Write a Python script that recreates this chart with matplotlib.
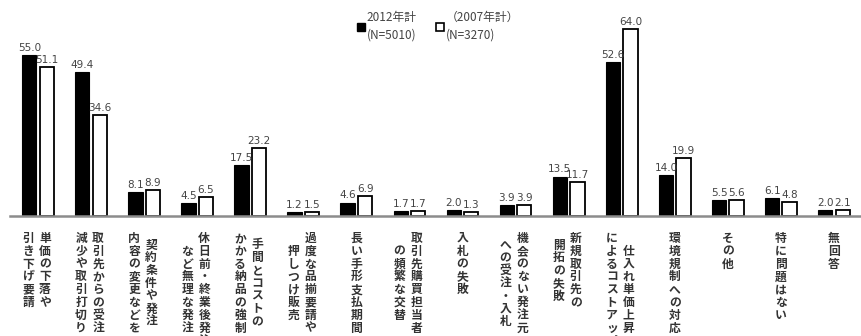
import numpy as np
import matplotlib
matplotlib.use('Agg')
import matplotlib.pyplot as plt
from matplotlib.patches import Patch

plt.rcParams['font.family'] = ['Noto Sans CJK JP', 'DejaVu Sans']

# --- data ---
labels = [
    ['単価の下落や', '引き下げ要請'],
    ['取引先からの受注', '減少や取引打切り'],
    ['契約条件や発注', '内容の変更などを'],
    ['休日前・終業後発注', 'など無理な発注'],
    ['手間とコストの', 'かかる納品の強制'],
    ['過度な品揃要請や', '押しつけ販売'],
    ['長い手形支払期間'],
    ['取引先購買担当者', 'の頻繁な交替'],
    ['入札の失敗'],
    ['機会のない発注元', 'への受注・入札'],
    ['新規取引先の', '開拓の失敗'],
    ['仕入れ単価上昇', 'によるコストアップ'],
    ['環境規制への対応'],
    ['その他'],
    ['特に問題はない'],
    ['無回答'],
]
vals_2012 = [55.0, 49.4, 8.1, 4.5, 17.5, 1.2, 4.6, 1.7, 2.0, 3.9, 13.5, 52.6, 14.0, 5.5, 6.1, 2.0]
vals_2007 = [51.1, 34.6, 8.9, 6.5, 23.2, 1.5, 6.9, 1.7, 1.3, 3.9, 11.7, 64.0, 19.9, 5.6, 4.8, 2.1]
legend_labels = ['2012年計\n(N=5010)', '（2007年計）\n(N=3270)']

W, H = 861, 336
fig = plt.figure(figsize=(W / 100, H / 100), dpi=100)
# axes: baseline at y=216px, groups at 38 + 53.07*i px
ax = fig.add_axes([10 / W, 120 / H, 851 / W, 204 / H])
ax.set_xlim(-0.528, 15.51)
ax.set_ylim(0, 204 / 2.92)

x = np.arange(len(vals_2012))
off, bw = 0.165, 0.27
ax.bar(x - off, vals_2012, bw, color='black', edgecolor='black', lw=0.8, zorder=2)
ax.bar(x + off, vals_2007, bw, color='white', edgecolor='black', lw=1.3, zorder=2)

for xi, v in zip(x, vals_2012):
    ax.annotate(f'{v:.1f}', (xi - off, v), xytext=(0, 1.5), textcoords='offset points',
                ha='center', va='bottom', fontsize=7.5, color='#444444', family='DejaVu Sans')
for xi, v in zip(x, vals_2007):
    ax.annotate(f'{v:.1f}', (xi + off, v), xytext=(0, 1.5), textcoords='offset points',
                ha='center', va='bottom', fontsize=7.5, color='#444444', family='DejaVu Sans')

# vertical (tategaki) category labels, first line on the right
px = 0.72  # points per pixel
pitch = 12.8
top = 16 + 6.5  # first char centre below baseline (px)
for xi, lines in zip(x, labels):
    if len(lines) == 1:
        cols = [0]
    else:
        cols = [7, -10]
    n = max(len(s) for s in lines)
    for dx, s in zip(cols, lines):
        shift = (n - len(s)) / 2 * pitch
        for k, ch in enumerate(s):
            ax.annotate(ch, (xi, 0), xytext=(dx * px, -(top + shift + k * pitch) * px),
                        textcoords='offset points', ha='center', va='center',
                        fontsize=8.5, fontweight='bold', color='#333333',
                        annotation_clip=False)

for s in ['top', 'left', 'right']:
    ax.spines[s].set_visible(False)
ax.spines['bottom'].set_color('#8c8c8c')
ax.spines['bottom'].set_linewidth(1.8)
ax.set_xticks([])
ax.set_yticks([])

handles = [Patch(facecolor='black', edgecolor='black'),
           Patch(facecolor='white', edgecolor='black', lw=1.2)]
leg = fig.legend(handles, legend_labels, loc='upper left', bbox_to_anchor=(351 / W, 1 - 5 / H),
                 ncol=2, frameon=False, fontsize=8.5, handlelength=0.7, handleheight=0.7,
                 handletextpad=0.15, columnspacing=1.6, borderpad=0, labelcolor='#444444')
for t in leg.get_texts():
    t.set_linespacing(1.5)

fig.savefig('out.png', dpi=100)
